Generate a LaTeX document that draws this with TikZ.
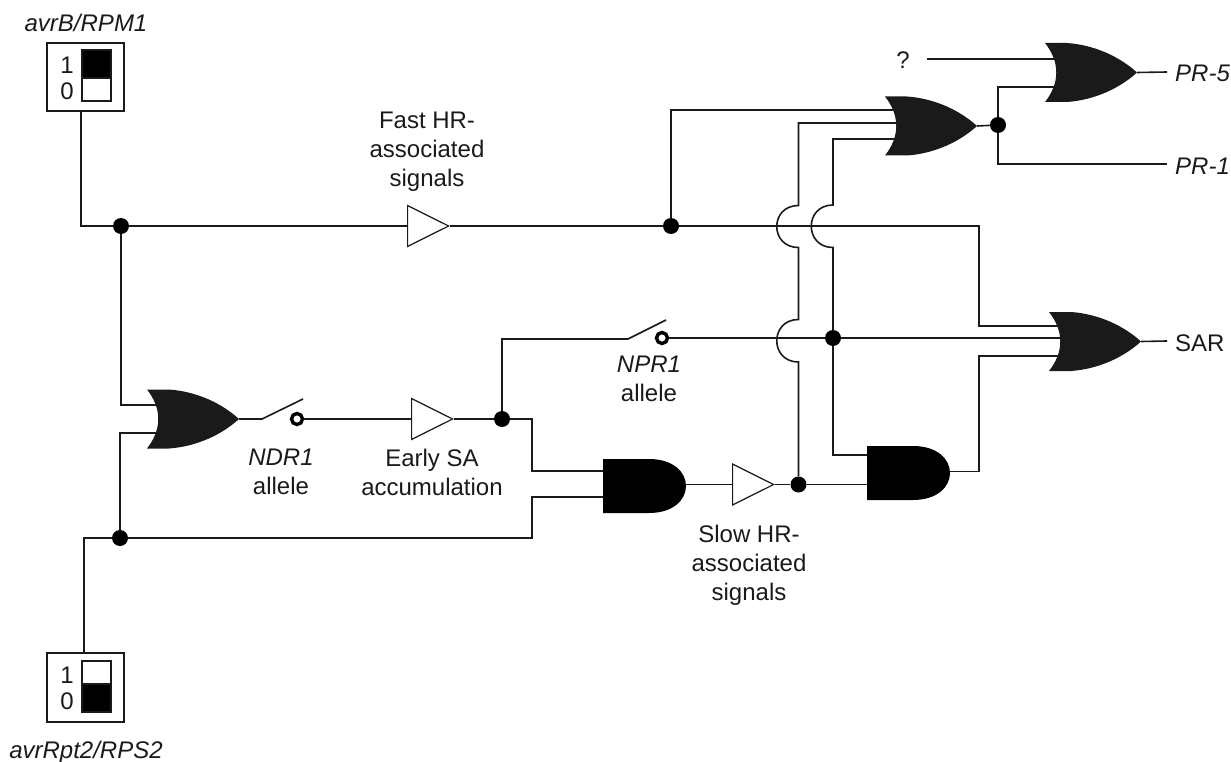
\documentclass[tikz,border=0pt]{standalone}
\usepackage{fontspec}
\setmainfont{Liberation Sans}
\usetikzlibrary{calc,shapes.geometric}
\definecolor{gateblk}{RGB}{26,26,26}
\tikzset{
  wire/.style={line width=1.6pt,draw=gateblk},
  bridge/.style={to path={.. controls ($(\tikztostart)+(-29,0)$) and ($(\tikztotarget)+(-29,0)$) .. (\tikztotarget)}},
  dot/.style={circle,fill=black,inner sep=0pt,minimum size=16pt},
  ring/.style={circle,draw=black,fill=white,line width=3.4pt,inner sep=0pt,minimum size=11pt},
  buf/.style={isosceles triangle,isosceles triangle apex angle=53,draw=gateblk,fill=white,
              line width=1.2pt,inner sep=0pt,minimum height=41pt,anchor=west},
  lbl/.style={font=\fontsize{24}{29}\selectfont,align=center,inner sep=0pt,text=gateblk},
  lbli/.style={lbl,font=\fontsize{24}{29}\selectfont\itshape},
  digit/.style={lbl,anchor=base},
  swbox/.style={draw=gateblk,fill=white,line width=1.5pt,inner sep=0pt,minimum width=77pt},
  rocker/.style={draw=gateblk,line width=1.5pt,inner sep=0pt,minimum width=29pt},
  orgate/.pic={
    \fill[gateblk] (0,0) -- (22,0) .. controls (50,2) and (75,14) .. (92,29.5)
      .. controls (75,45) and (50,57) .. (22,59) -- (0,59)
      .. controls (15,40) and (15,19) .. (0,0) -- cycle;
    \coordinate (-out) at (92,29.5);
  },
  andgate/.pic={
    \fill[black] (0,0) -- (46,0) .. controls (70,0) and (83,13) .. (83,27)
      .. controls (83,41) and (70,54) .. (46,54) -- (0,54) -- cycle;
    \coordinate (-out) at (83,25.5);
  },
}

\begin{document}
\begin{tikzpicture}[x=1pt,y=-1pt]
  \useasboundingbox (0,0) rectangle (1231,762);

  \node[swbox,minimum height=68pt] (rpm) at (85.5,77) {};
  \node[rocker,fill=black,minimum height=28pt] (rpmon) at (96.5,64) {};
  \node[rocker,fill=white,minimum height=23pt] (rpmoff) at (96.5,89.5) {};
  \node[digit] (rpmone) at (67,74) {1};
  \node[digit] (rpmzero) at (67,100) {0};
  \node[lbli] (rpmlbl) at (86,23) {avrB/RPM1};

  \node[swbox,minimum height=69pt] (rps) at (85.5,687.5) {};
  \node[rocker,fill=white,minimum height=23pt] (rpson) at (96.5,672.5) {};
  \node[rocker,fill=black,minimum height=28pt] (rpsoff) at (96.5,698) {};
  \node[digit] (rpsone) at (67,683) {1};
  \node[digit] (rpszero) at (67,709) {0};
  \node[lbli] (rpslbl) at (86,752) {avrRpt2/RPS2};

  \pic (orl) at (147,389.5) {orgate};
  \pic (orm) at (885,96.5) {orgate};
  \pic (ort) at (1045,43) {orgate};
  \pic (ors) at (1049,312) {orgate};
  \pic (andl) at (603,459) {andgate};
  \pic (andr) at (867,446) {andgate};

  \node[buf] (bfast) at (407,226) {};
  \node[buf] (bearly) at (411,419) {};
  \node[buf] (bslow) at (732,484.5) {};

  \node[dot] (jfast) at (121,226) {};
  \node[dot] (jrps) at (120,538) {};
  \node[dot] (jpr) at (671,226) {};
  \node[dot] (jearly) at (502,419) {};
  \node[dot] (jslow) at (798.5,484.5) {};
  \node[dot] (jnpr) at (833,338) {};
  \node[dot] (jout) at (998,125) {};

  \coordinate (rpmo) at (81,111);
  \coordinate (rpso) at (84,653);
  \coordinate (orla) at (173,405);
  \coordinate (orlb) at (175,433);
  \coordinate (orma) at (903,110);
  \coordinate (ormb) at (912,123);
  \coordinate (ormc) at (947,139);
  \coordinate (orta) at (1063,59);
  \coordinate (ortb) at (1062,87);
  \coordinate (orsa) at (1063,326);
  \coordinate (orsb) at (1073,338);
  \coordinate (orsc) at (1073,356);
  \coordinate (anda) at (603,471);
  \coordinate (andb) at (603,497);
  \coordinate (andc) at (867,455);
  \coordinate (andd) at (867,484.5);
  \coordinate (bra) at (798.5,205.5);
  \coordinate (brb) at (798.5,247.5);
  \coordinate (brc) at (798.5,319.5);
  \coordinate (brd) at (798.5,362);
  \coordinate (bre) at (833,205);
  \coordinate (brf) at (833,247.5);
  \coordinate (qstart) at (927,59);
  \coordinate (pr5end) at (1167,72);
  \coordinate (pr1end) at (1167,164);
  \coordinate (sarend) at (1167,341);
  \coordinate (sarturn) at (979,356);
  \coordinate (fastturn) at (979,226);
  \coordinate (earlyturn) at (532,471);
  \coordinate (rpsturn) at (532,538);

  \coordinate (swla) at (262,419);
  \coordinate (swlb) at (303,399);
  \node[ring] (swlc) at (297,419) {};
  \coordinate (swna) at (628,339);
  \coordinate (swnb) at (666,320);
  \node[ring] (swnc) at (662,338) {};

  \draw[wire] (rpmo) |- (jfast);
  \draw[wire] (jfast) -- (bfast.west);
  \draw[wire] (bfast.east) -- (jpr);
  \draw[wire] (jpr) -- (fastturn) |- (orsa);
  \draw[wire] (jfast) |- (orla);
  \draw[wire] (rpso) |- (jrps);
  \draw[wire] (jrps) |- (orlb);
  \draw[wire] (jrps) -- (rpsturn) |- (andb);
  \draw[wire] (orl-out) -- (swla) -- (swlb);
  \draw[wire] (swlc) -- (bearly.west);
  \draw[wire] (bearly.east) -- (jearly);
  \draw[wire] (jearly) -| (earlyturn) -- (anda);
  \draw[wire] (jearly) |- (swna) -- (swnb);
  \draw[wire] (swnc) -- (jnpr);
  \draw[wire] (jnpr) -- (orsb);
  \draw[wire] (andl-out) -- (bslow.west);
  \draw[wire] (bslow.east) -- (jslow);
  \draw[wire] (jslow) -- (andd);
  \draw[wire] (andr-out) -| (sarturn) -- (orsc);
  \draw[wire] (jpr) |- (orma);
  \draw[wire] (ormb) -| (bra) to[bridge] (brb) -- (brc) to[bridge] (brd) -- (jslow);
  \draw[wire] (ormc) -| (bre) to[bridge] (brf) -- (jnpr);
  \draw[wire] (jnpr) |- (andc);
  \draw[wire] (orm-out) -- (jout);
  \draw[wire] (jout) |- (ortb);
  \draw[wire] (jout) |- (pr1end);
  \draw[wire] (qstart) -- (orta);
  \draw[wire] (ort-out) -- (pr5end);
  \draw[wire] (ors-out) -- (sarend);

  \node[lbl] (fastlbl) at (427,152) {Fast HR-\\associated\\signals};
  \node[lbl] (slowlbl) at (749,565) {Slow HR-\\associated\\signals};
  \node[lbl] (earlylbl) at (432,472) {Early SA\\accumulation};
  \node[lbl] (ndrlbl) at (281,472) {\textit{NDR1}\\allele};
  \node[lbl] (nprlbl) at (649,379) {\textit{NPR1}\\allele};
  \node[lbl] (qlbl) at (903,60) {?};
  \node[lbl,anchor=west] (pr5lbl) at (1175,73) {\textit{PR-5}};
  \node[lbl,anchor=west] (pr1lbl) at (1175,166) {\textit{PR-1}};
  \node[lbl,anchor=west] (sarlbl) at (1175,343) {SAR};
\end{tikzpicture}
\end{document}
